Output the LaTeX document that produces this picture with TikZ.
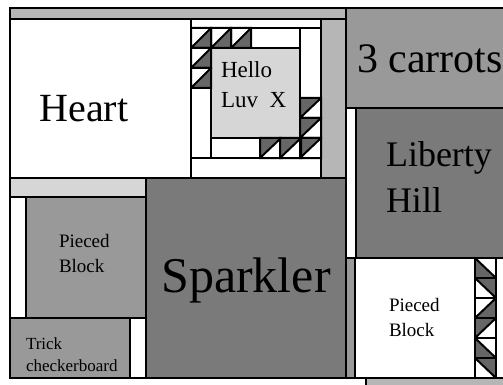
\documentclass[tikz,border=0pt]{standalone}
\usepackage{fontspec}
\setmainfont{Liberation Serif}
\usepackage{xcolor}
\definecolor{stripgray}{RGB}{182,182,182}
\definecolor{palegray}{RGB}{214,214,214}
\definecolor{patchgray}{RGB}{153,153,153}
\definecolor{deepgray}{RGB}{122,122,122}
\definecolor{geesegray}{RGB}{102,102,102}

\begin{document}
\begin{tikzpicture}[x=1pt, y=-1pt, line width=2pt,
  patch/.style={draw=black, line width=2pt},
  tag/.style={inner sep=0pt, align=left}]
\useasboundingbox (0,0) rectangle (503,385);
\clip (0,0) rectangle (503,385);
% top row of the quilt
\draw[patch, fill=stripgray] (10,8) rectangle (346,19);
\draw[patch, fill=white] (10,19) rectangle (191,178);
\node[tag, font=\fontsize{40}{46}\selectfont, anchor=base] (heart) at (84,122) {Heart};
\draw[patch, fill=white] (191,19) rectangle (321,178);
\draw[patch, fill=stripgray] (321,19) rectangle (346,178);
\draw[patch] (191,28) rectangle (321,158);
\draw[patch, fill=palegray] (211,48) rectangle (300,138);
\draw[patch] (300,28) -- (300,48) (211,138) -- (211,158);
\foreach \x/\y in {191/28, 211/28, 231/28, 191/48, 191/68} {
  \fill[geesegray] (\x,\y+20) -- (\x+20,\y+20) -- (\x+20,\y) -- cycle;
  \draw (\x,\y) rectangle (\x+20,\y+20) (\x,\y+20) -- (\x+20,\y);
}
\foreach \x/\y in {300/98, 300/118, 300/138, 260/138, 280/138} {
  \fill[geesegray] (\x,\y) -- (\x+21,\y) -- (\x,\y+20) -- cycle;
  \draw (\x,\y) rectangle (\x+21,\y+20) (\x,\y+20) -- (\x+21,\y);
}
\node[tag, font=\fontsize{23}{30}\selectfont, anchor=west] (hello) at (220,85) {Hello\\Luv\ \ X};
% right column
\draw[patch, fill=patchgray] (346,8) rectangle (520,108);
\node[tag, font=\fontsize{42}{48}\selectfont, anchor=base west] (carrots) at (356,73) {3 carrots};
\draw[patch, fill=white] (346,108) rectangle (356,258);
\draw[patch, fill=deepgray] (356,108) rectangle (520,258);
\node[tag, font=\fontsize{36}{46}\selectfont, anchor=west] (liberty) at (385,177) {Liberty\\Hill};
\draw[patch, fill=patchgray] (346,258) rectangle (355,378);
\draw[patch, fill=white] (355,258) rectangle (475,378);
\node[tag, font=\fontsize{19}{25}\selectfont, anchor=west] (piecedright) at (388,317) {Pieced\\Block};
\draw[patch, fill=white] (496,258) rectangle (520,378);
\foreach \y/\kind in {258/0, 278/1, 298/2, 318/3, 338/0, 358/1} {
  \ifcase\kind
    \fill[geesegray] (475,\y) -- (475,\y+20) -- (496,\y+20) -- cycle;
    \draw (475,\y) -- (496,\y+20);
  \or
    \fill[geesegray] (475,\y) -- (496,\y) -- (496,\y+20) -- cycle;
    \draw (475,\y) -- (496,\y+20);
  \or
    \fill[geesegray] (475,\y+20) -- (496,\y+20) -- (496,\y) -- cycle;
    \draw (475,\y+20) -- (496,\y);
  \or
    \fill[geesegray] (475,\y) -- (496,\y) -- (475,\y+20) -- cycle;
    \draw (475,\y+20) -- (496,\y);
  \fi
  \draw (475,\y) rectangle (496,\y+20);
}
\draw[patch, fill=stripgray] (366,378) rectangle (520,400);
% lower left
\draw[patch, fill=palegray] (10,178) rectangle (146,197);
\draw[patch, fill=white] (10,197) rectangle (26,318);
\draw[patch, fill=patchgray] (26,197) rectangle (146,318);
\node[tag, font=\fontsize{19}{25}\selectfont, anchor=west] (piecedleft) at (58,253) {Pieced\\Block};
\draw[patch, fill=patchgray] (10,318) rectangle (130,378);
\draw[patch, fill=white] (130,318) rectangle (146,378);
\node[tag, font=\fontsize{17}{22}\selectfont, anchor=west] (trick) at (25,355) {Trick\\checkerboard};
\draw[patch, fill=deepgray] (146,178) rectangle (346,378);
\node[tag, font=\fontsize{50}{56}\selectfont, anchor=base] (sparkler) at (246,292) {Sparkler};
\end{tikzpicture}
\end{document}
